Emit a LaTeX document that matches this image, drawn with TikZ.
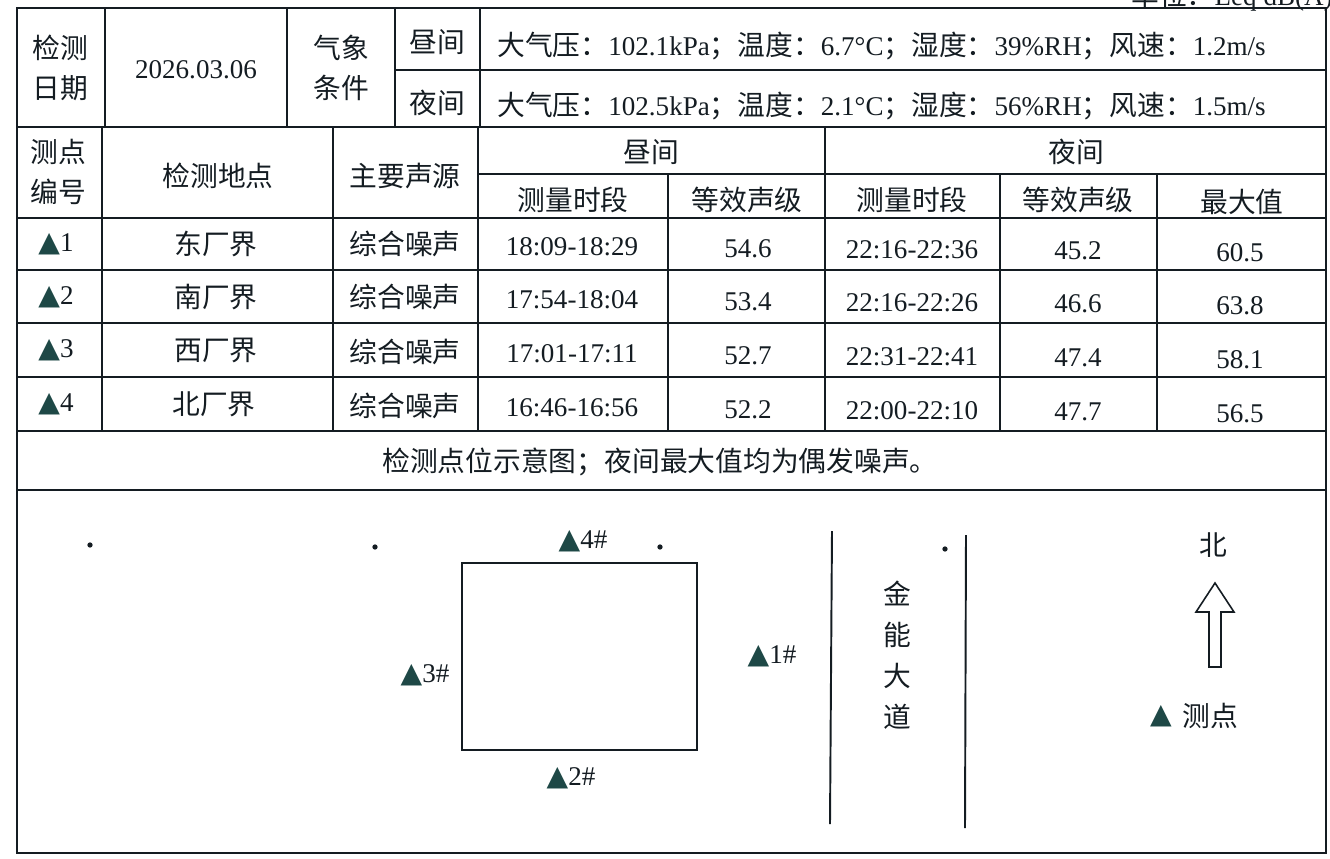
\documentclass[tikz,border=0pt]{standalone}
\usepackage{fontspec}
\setmainfont{Liberation Serif}
\newfontfamily\cjk{Noto Sans CJK SC}
\newfontfamily\symf{DejaVu Sans}
\usepackage{tikz}

\definecolor{ink}{RGB}{20,28,34}
\definecolor{tri}{RGB}{30,72,70}
\newcommand{\zh}{\cjk\fontsize{15.8}{23}\selectfont}
\newcommand{\tri}{{\symf\fontsize{16}{18}\selectfont\color{tri}▲}}

\tikzset{
  rule/.style={line width=1.1pt, draw=ink},
  txt/.style={text=ink, inner sep=0pt, font=\fontsize{15.4}{18}\selectfont},
  wtxt/.style={txt, anchor=west},
  zhtxt/.style={text=ink, inner sep=0pt, font=\zh, align=center},
}

\begin{document}
\begin{tikzpicture}[x=0.02cm, y=-0.02cm]
\useasboundingbox (0,0) rectangle (1330,859);

%% unit line above the table
\node[txt, anchor=east] (unit) at (1333,-3) {{\zh 单位：}Leq dB(A)};

%% outer frame
\draw[rule] (17,8) rectangle (1326,853);

%% horizontal rules
\draw[rule] (395,70) -- (1326,70);    %% day / night weather
\draw[rule] (17,127) -- (1326,127);
\draw[rule] (478,174) -- (1326,174);  %% day / night header
\draw[rule] (17,218) -- (1326,218);
\draw[rule] (17,270) -- (1326,270);
\draw[rule] (17,323) -- (1326,323);
\draw[rule] (17,377) -- (1326,377);
\draw[rule] (17,431) -- (1326,431);
\draw[rule] (17,490) -- (1326,490);

%% vertical rules, first row
\draw[rule] (105,8) -- (105,127);
\draw[rule] (287,8) -- (287,127);
\draw[rule] (395,8) -- (395,127);
\draw[rule] (480,8) -- (480,127);

%% vertical rules, header and data
\draw[rule] (102,127) -- (102,431);
\draw[rule] (333,127) -- (333,431);
\draw[rule] (478,127) -- (478,431);
\draw[rule] (825,127) -- (825,431);
\draw[rule] (668,174) -- (668,431);
\draw[rule] (1000,174) -- (1000,431);
\draw[rule] (1157,174) -- (1157,431);

%% first row
\node[zhtxt] (date) at (60,68) {检测\\日期};
\node[txt] (dateval) at (196,70) {2026.03.06};
\node[zhtxt] (weather) at (341,68) {气象\\条件};
\node[zhtxt] (wday) at (437,42) {昼间};
\node[zhtxt] (wnight) at (437,103) {夜间};
\node[wtxt] (wdaytxt) at (497,46)
  {{\zh 大气压：}102.1kPa{\zh ；温度：}6.7°C{\zh ；湿度：}39\%RH{\zh ；风速：}1.2m/s};
\node[wtxt] (wnighttxt) at (497,106)
  {{\zh 大气压：}102.5kPa{\zh ；温度：}2.1°C{\zh ；湿度：}56\%RH{\zh ；风速：}1.5m/s};

%% header
\node[zhtxt] (no) at (58,172) {测点\\编号};
\node[zhtxt] (site) at (218,176) {检测地点};
\node[zhtxt] (source) at (405,176) {主要声源};
\node[zhtxt] (day) at (651,152) {昼间};
\node[zhtxt] (night) at (1076,152) {夜间};
\node[zhtxt] (dtime) at (573,200) {测量时段};
\node[zhtxt] (dleq) at (747,200) {等效声级};
\node[zhtxt] (ntime) at (912,200) {测量时段};
\node[zhtxt] (nleq) at (1078,200) {等效声级};
\node[zhtxt] (nmax) at (1242,202) {最大值};

%% data rows
\node[txt] (p1) at (56,244) {\tri1};
\node[zhtxt] (s1) at (216,244) {东厂界};
\node[zhtxt] (n1) at (405,244) {综合噪声};
\node[txt] (t1) at (572,247) {18:09-18:29};
\node[txt] (l1) at (748,249) {54.6};
\node[txt] (u1) at (912,250) {22:16-22:36};
\node[txt] (m1) at (1078,251) {45.2};
\node[txt] (x1) at (1240,253) {60.5};

\node[txt] (p2) at (56,297) {\tri2};
\node[zhtxt] (s2) at (216,297) {南厂界};
\node[zhtxt] (n2) at (405,297) {综合噪声};
\node[txt] (t2) at (572,300) {17:54-18:04};
\node[txt] (l2) at (748,302) {53.4};
\node[txt] (u2) at (912,303) {22:16-22:26};
\node[txt] (m2) at (1078,304) {46.6};
\node[txt] (x2) at (1240,306) {63.8};

\node[txt] (p3) at (56,350) {\tri3};
\node[zhtxt] (s3) at (216,350) {西厂界};
\node[zhtxt] (n3) at (405,352) {综合噪声};
\node[txt] (t3) at (572,354) {17:01-17:11};
\node[txt] (l3) at (748,356) {52.7};
\node[txt] (u3) at (912,357) {22:31-22:41};
\node[txt] (m3) at (1078,358) {47.4};
\node[txt] (x3) at (1240,360) {58.1};

\node[txt] (p4) at (56,404) {\tri4};
\node[zhtxt] (s4) at (214,404) {北厂界};
\node[zhtxt] (n4) at (405,406) {综合噪声};
\node[txt] (t4) at (572,408) {16:46-16:56};
\node[txt] (l4) at (748,410) {52.2};
\node[txt] (u4) at (912,411) {22:00-22:10};
\node[txt] (m4) at (1078,412) {47.7};
\node[txt] (x4) at (1240,414) {56.5};

%% note
\node[zhtxt] (note) at (660,462) {检测点位示意图；夜间最大值均为偶发噪声。};

%% site plan
\draw[rule] (462,563) rectangle (697,750);   %% plant
\node[txt] (m4p) at (583,541) {\tri4\#};
\node[txt] (m3p) at (425,675) {\tri3\#};
\node[txt] (m2p) at (571,778) {\tri2\#};
\node[txt] (m1p) at (772,656) {\tri1\#};

%% road
\draw[rule] (832,531) -- (830,824);
\draw[rule] (966,535) -- (965,828);
\node[zhtxt, font=\cjk\fontsize{15.8}{23.3}\selectfont] (road) at (897,655) {金\\能\\大\\道};

%% north arrow
\node[zhtxt] (north) at (1213,545) {北};
\draw[rule, line width=0.9pt] (1209,667) -- (1209,612) -- (1196,612) -- (1215,583)
  -- (1234,612) -- (1221,612) -- (1221,667) -- cycle;

%% legend
\node[txt] (legtri) at (1161,716) {\tri};
\node[zhtxt] (legtxt) at (1210,716) {测点};

%% stray dots
\fill[ink] (90,545) circle (1.5pt);
\fill[ink] (375,547) circle (1.5pt);
\fill[ink] (660,547) circle (1.5pt);
\fill[ink] (945,549) circle (1.5pt);

\end{tikzpicture}
\end{document}
